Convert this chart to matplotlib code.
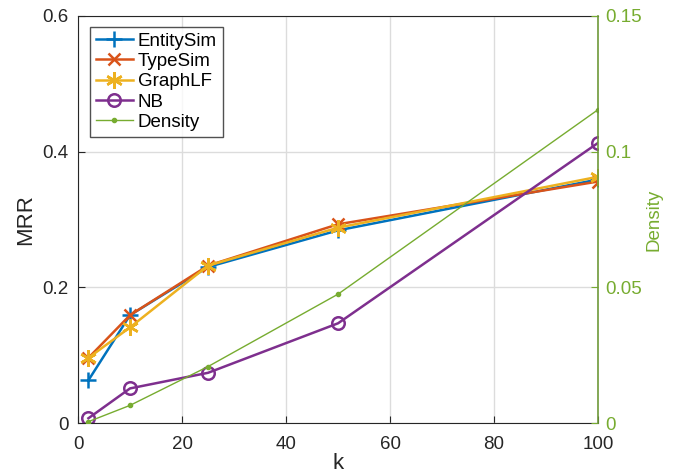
import matplotlib
matplotlib.use('Agg')
import matplotlib.pyplot as plt

plt.rcParams['font.family'] = ['Liberation Sans', 'DejaVu Sans']

k = [2, 10, 25, 50, 100]
entity_sim = [0.063, 0.159, 0.230, 0.284, 0.359]
type_sim = [0.096, 0.159, 0.232, 0.293, 0.356]
graph_lf = [0.096, 0.141, 0.232, 0.288, 0.363]
nb = [0.007, 0.051, 0.074, 0.147, 0.413]
density = [0.0005, 0.0065, 0.0208, 0.0475, 0.1155]

blue = '#0072BD'
red = '#D95319'
yellow = '#EDB120'
purple = '#7E2F8E'
green = '#77AC30'
dark = '#262626'

fig = plt.figure(figsize=(6.79, 4.73), dpi=100)
ax = fig.add_axes([0.1149, 0.1057, 0.766, 0.8605])

h1, = ax.plot(k, entity_sim, color=blue, marker='+', ms=11, mew=1.8, lw=1.8, label='EntitySim')
h2, = ax.plot(k, type_sim, color=red, marker='x', ms=9, mew=1.8, lw=1.8, label='TypeSim')
h3, = ax.plot(k, graph_lf, color=yellow, marker=(6, 2, 0), ms=12, mew=1.8, lw=1.8, label='GraphLF')
h4, = ax.plot(k, nb, color=purple, marker='o', ms=9, mfc='none', mew=1.8, lw=1.8, label='NB')

ax.set_xlim(0, 100)
ax.set_ylim(0, 0.6)
ax.set_xticks([0, 20, 40, 60, 80, 100])
ax.set_yticks([0, 0.2, 0.4, 0.6])
ax.set_yticklabels(['0', '0.2', '0.4', '0.6'])
ax.grid(True, color='#DCDCDC', lw=1)
ax.set_axisbelow(True)
ax.tick_params(direction='in', labelsize=13.5, colors=dark, length=5, right=False, top=False)
ax.tick_params(axis='x', pad=9)
ax.tick_params(axis='y', pad=7)
for s in ['left', 'bottom', 'top']:
    ax.spines[s].set_color(dark)
ax.spines['right'].set_visible(False)
ax.set_xlabel('k', fontsize=16, color=dark, labelpad=0)
ax.set_ylabel('MRR', fontsize=16, color=dark, labelpad=4)

ax2 = ax.twinx()
h5, = ax2.plot(k, density, color=green, marker='.', ms=6, lw=1, label='Density')
ax2.set_ylim(0, 0.15)
ax2.set_yticks([0, 0.05, 0.1, 0.15])
ax2.set_yticklabels(['0', '0.05', '0.1', '0.15'])
ax2.tick_params(direction='in', labelsize=13.5, colors=green, length=5, pad=5)
ax2.spines['right'].set_color('#6E9A3A')
ax2.spines['right'].set_linewidth(1.2)
for s in ['left', 'bottom', 'top']:
    ax2.spines[s].set_visible(False)
ax2.set_ylabel('Density', fontsize=13.5, color=green, labelpad=3)

leg = ax.legend(handles=[h1, h2, h3, h4, h5], loc='upper left', bbox_to_anchor=(0.023, 0.973),
                fontsize=13.5, frameon=True, fancybox=False, edgecolor=dark,
                handlelength=2.0, handletextpad=0.25, borderpad=0.3, labelspacing=0.17, borderaxespad=0)
leg.get_frame().set_linewidth(1)
leg.set_zorder(10)

fig.savefig('out.png', dpi=100)
